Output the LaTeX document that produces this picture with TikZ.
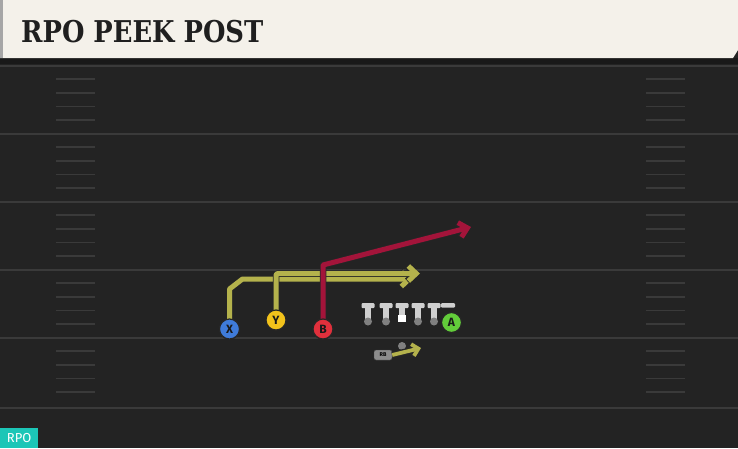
\documentclass[tikz,border=0pt]{standalone}
\usepackage{fontspec}
\setmainfont{Fira Sans}
\newfontfamily\titlefont[FakeStretch=0.86]{DejaVu Serif}
\usetikzlibrary{arrows.meta}

\definecolor{fieldbg}{HTML}{232323}
\definecolor{yardline}{HTML}{3A3A3A}
\definecolor{titlebg}{HTML}{F4F1EA}
\definecolor{routeyellow}{HTML}{B4B24C}
\definecolor{routered}{HTML}{A3143A}
\definecolor{xblue}{HTML}{3F7BD9}
\definecolor{yyellow}{HTML}{F2C21B}
\definecolor{bred}{HTML}{E0303C}
\definecolor{agreen}{HTML}{62CC3A}
\definecolor{olgray}{HTML}{CFCFCF}
\definecolor{tagteal}{HTML}{1CC6B7}

\begin{document}
\begin{tikzpicture}[x=1pt,y=-1pt]

    \tikzset{
      player/.style={
        circle,
        draw=black!85,
        line width=1.2pt,
        minimum size=20pt,
        inner sep=0pt,
        font=\bfseries\fontsize{12}{12}\selectfont,
        text=black!90,
      },
      route/.style={
        line width=5pt,
        line join=round,
        -{Straight Barb[length=8pt,width=15pt]},
        preaction={draw=black!85, line width=6.5pt},
      },
    }
    \useasboundingbox (0,0) rectangle (738,448);
    \fill[fieldbg] (0,0) rectangle (738,448);
    % yard lines and hashes
    \foreach \yl in {65.5,133.5,201.5,269.5,337.5,408}
      \draw[yardline, line width=2pt] (0,\yl) -- (738,\yl);
    \foreach \top in {65.5,133.5,201.5,269.5,337.5}
      \foreach \k in {1,2,3,4} {
        \draw[yardline, line width=1.6pt] (56,{\top+\k*13.6}) -- (95,{\top+\k*13.6});
        \draw[yardline, line width=1.6pt] (646,{\top+\k*13.6}) -- (685,{\top+\k*13.6});
      }
    % title bar
    \fill[black!90] (0,58) rectangle (738,64);
    \fill[titlebg] (0,0) -- (738,0) -- (738,50) -- (733,58) -- (0,58) -- cycle;
    \fill[black!35] (0,0) rectangle (3,58);
    \node[anchor=base west, inner sep=0pt, text=black!88,
      font=\titlefont\bfseries\fontsize{30}{30}\selectfont] (title) at (21,42) {RPO PEEK POST};
    % play tag
    \node[anchor=south west, fill=tagteal, text=white, inner sep=0pt,
      minimum width=38pt, minimum height=20pt, font=\fontsize{13}{13}\selectfont] (tag) at (0,448) {RPO};

    % offensive line
    \foreach \lx in {368,386,418,434} {
      \fill[olgray, rounded corners=1pt] (\lx-6.5,303) rectangle (\lx+6.5,308);
      \fill[olgray] (\lx-2.8,308) rectangle (\lx+2.8,321);
      \fill[black!50] (\lx,321.5) circle (4);
    }
    \fill[olgray, rounded corners=1pt] (395.5,303) rectangle (408.5,308);
    \fill[olgray] (399.2,308) rectangle (404.8,315);
    \fill[white] (397.5,314.5) rectangle (406,322);
    \fill[olgray, rounded corners=1pt] (441,303) rectangle (455,307.5);

    % routes
    \coordinate (xend) at (413,279);
    \coordinate (yend) at (420,273.5);
    \coordinate (bend) at (471,227);
    \coordinate (rbend) at (421,348);
    \node[player, fill=xblue] (x) at (229.5,329) {X};
    \node[player, fill=yyellow] (y) at (276,320) {Y};
    \node[player, fill=bred] (b) at (323,329) {B};
    \draw[route, routeyellow] (x.center) -- (229.5,289) -- (242.5,279) -- (xend);
    \draw[route, routeyellow, rounded corners=2pt] (y.center) -- (276,273.5) -- (yend);
    \draw[route, routered] (b.center) -- (323,265) -- (bend);
    \node[player, fill=xblue] at (x) {X};
    \node[player, fill=yyellow] at (y) {Y};
    \node[player, fill=bred] at (b) {B};
    \node[player, fill=agreen] (a) at (451.5,322.5) {A};

    % running back
    \node[circle, fill=black!50, inner sep=0pt, minimum size=8pt] (qb) at (402,346) {};
    \node[fill=black!45, draw=black!75, rounded corners=2pt, inner sep=0pt,
      minimum width=18pt, minimum height=10pt, font=\bfseries\fontsize{5.5}{5.5}\selectfont] (rb) at (383,355) {RB};
    \draw[route, routeyellow, line width=3.8pt, preaction={draw=black!85, line width=5pt},
      -{Straight Barb[length=6pt,width=12pt]}] (rb.east) -- (rbend);

\end{tikzpicture}
\end{document}
